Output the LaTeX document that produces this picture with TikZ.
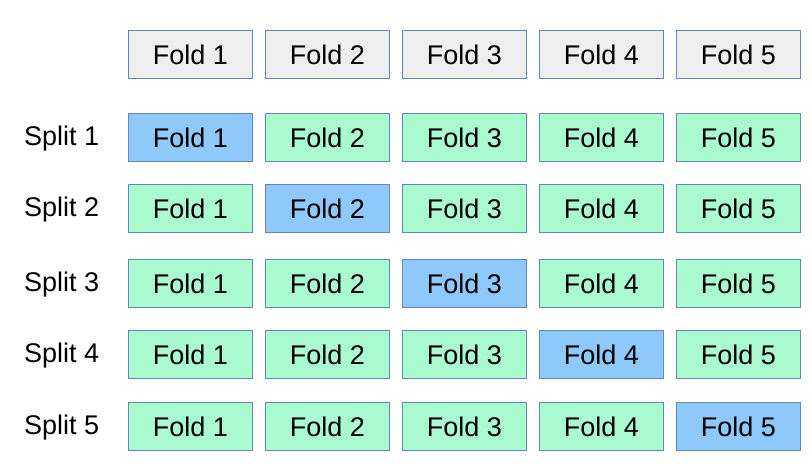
\documentclass[tikz,border=0pt]{standalone}
\usepackage{fontspec}
\setmainfont{Liberation Sans}
\begin{document}
\begin{tikzpicture}[x=1pt,y=-1pt,
	foldbox/.style={draw=foldedge,line width=0.9pt,minimum width=124pt,minimum height=48pt,inner sep=0pt,font=\fontsize{27}{31}\selectfont},
	splitlabel/.style={anchor=west,inner sep=0pt,font=\fontsize{27}{31}\selectfont}]
		\definecolor{foldedge}{RGB}{100,135,185}
		\definecolor{headgray}{RGB}{238,238,238}
		\definecolor{trainmint}{RGB}{170,250,208}
		\definecolor{testblue}{RGB}{143,200,250}
		\useasboundingbox (0,0) rectangle (812,464);
		% top row of folds
		\foreach \k/\x in {1/190.5,2/327.5,3/464.5,4/601.5,5/738.5}
			\node[foldbox,fill=headgray] (head\k) at (\x,54.5) {Fold \k};
		% one row per split
		\foreach \s/\y in {1/137.5,2/208.5,3/283.5,4/354.5,5/426.5}{
			\node[splitlabel] (split\s) at (24,\y+1) {Split \s};
			\foreach \k/\x in {1/190.5,2/327.5,3/464.5,4/601.5,5/738.5}{
				\ifnum\k=\s
					\node[foldbox,fill=testblue] (fold\s\k) at (\x,\y) {Fold \k};
				\else
					\node[foldbox,fill=trainmint] (fold\s\k) at (\x,\y) {Fold \k};
				\fi
			}
		}
	\end{tikzpicture}
\end{document}
